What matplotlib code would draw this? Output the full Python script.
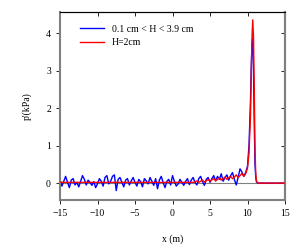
import numpy as np
import matplotlib.pyplot as plt

plt.rcParams['font.family'] = ['Liberation Serif', 'DejaVu Serif']

# noisy part, x = -15 .. 9.75 step 0.25
x_noise = np.arange(-15, 10, 0.25)
blue_noise = [0.10, -0.08, 0.05, 0.18, 0.02, -0.12, 0.08, 0.12, -0.05, 0.02,
              -0.10, 0.05, 0.20, 0.10, -0.05, 0.08, 0.02, -0.06, 0.04, -0.12,
              -0.02, 0.12, 0.05, -0.08, 0.15, 0.20, -0.02, 0.05, 0.18, 0.22,
              -0.20, 0.10, 0.15, 0.02, -0.10, 0.08, 0.12, -0.05, 0.06, 0.15,
              0.02, -0.08, 0.10, 0.04, -0.10, 0.12, 0.06, -0.02, 0.15, 0.05,
              -0.06, 0.12, -0.15, 0.08, 0.18, 0.02, -0.12, 0.05, 0.10, -0.05,
              0.20, 0.05, -0.08, -0.02, 0.10, 0.02, -0.06, 0.05, 0.12, -0.04,
              0.08, 0.15, 0.02, -0.05, 0.12, 0.18, 0.04, -0.06, 0.10, 0.15,
              0.02, 0.12, 0.20, 0.06, 0.18, 0.10, 0.25, 0.05, 0.15, 0.22,
              0.08, 0.20, 0.28, 0.10, -0.05, 0.15, 0.38, 0.30, 0.18, 0.28]
red_noise = [0.02] * 72 + [0.03, 0.06, 0.02, 0.05, 0.08, 0.03, 0.06, 0.10,
                           0.05, 0.09, 0.12, 0.06, 0.10, 0.14, 0.08, 0.12,
                           0.16, 0.10, 0.14, 0.18, 0.12, 0.16, 0.22, 0.15,
                           0.20, 0.26, 0.18, 0.25]

# pulse part
x_peak = [10.0, 10.2, 10.4, 10.5, 10.6, 10.7, 10.8, 10.9, 11.0, 11.1, 11.2, 11.4, 11.7, 12.0, 15.0]
blue_peak = [0.45, 1.0, 2.2, 3.1, 3.7, 3.85, 3.0, 1.6, 0.5, 0.15, 0.03, 0.0, 0.0, 0.0, 0.0]
red_peak = [0.40, 0.8, 1.8, 2.9, 3.9, 4.35, 3.9, 2.5, 0.9, 0.25, 0.05, 0.0, 0.0, 0.0, 0.0]

x_all = np.concatenate([x_noise, x_peak])
blue = np.concatenate([blue_noise, blue_peak])
red = np.concatenate([red_noise, red_peak])

xticks = [-15, -10, -5, 0, 5, 10, 15]
yticks = [0, 1, 2, 3, 4]

fig = plt.figure(figsize=(3, 2.5), dpi=100)
ax = fig.add_axes([0.2, 0.2, 0.75, 0.752])

ax.axhline(0, color='grey', lw=0.8, zorder=1)
ax.plot(x_all, blue, color='blue', lw=1.0, label='0.1 cm < H < 3.9 cm', zorder=2)
ax.plot(x_all, red, color='red', lw=1.0, label='H=2cm', zorder=3)

ax.set_xlim(-15, 15)
ax.set_ylim(-0.45, 4.56)
ax.set_xticks(xticks)
ax.set_yticks(yticks)

for s in ['left', 'right', 'bottom']:
    ax.spines[s].set_color('grey')
    ax.spines[s].set_linewidth(1.5)
ax.spines['top'].set_linewidth(0.8)

ax.tick_params(axis='both', labelsize=7, length=3, width=0.6, direction='out')

# inward ticks on top and right
top = ax.secondary_xaxis('top')
top.set_xticks(xticks)
top.tick_params(direction='in', length=3, width=0.6, labeltop=False)
right = ax.secondary_yaxis('right')
right.set_yticks(yticks)
right.tick_params(direction='in', length=3, width=0.6, labelright=False)
right.spines['right'].set_color('grey')
right.spines['right'].set_linewidth(1.5)

ax.set_xlabel('x (m)', fontsize=7, labelpad=12)
ax.set_ylabel("p'(kPa)", fontsize=7, labelpad=10)

ax.legend(loc='upper left', frameon=False, fontsize=7, handlelength=2.5,
          bbox_to_anchor=(0.05, 0.98))

plt.savefig('out.png', dpi=100)
